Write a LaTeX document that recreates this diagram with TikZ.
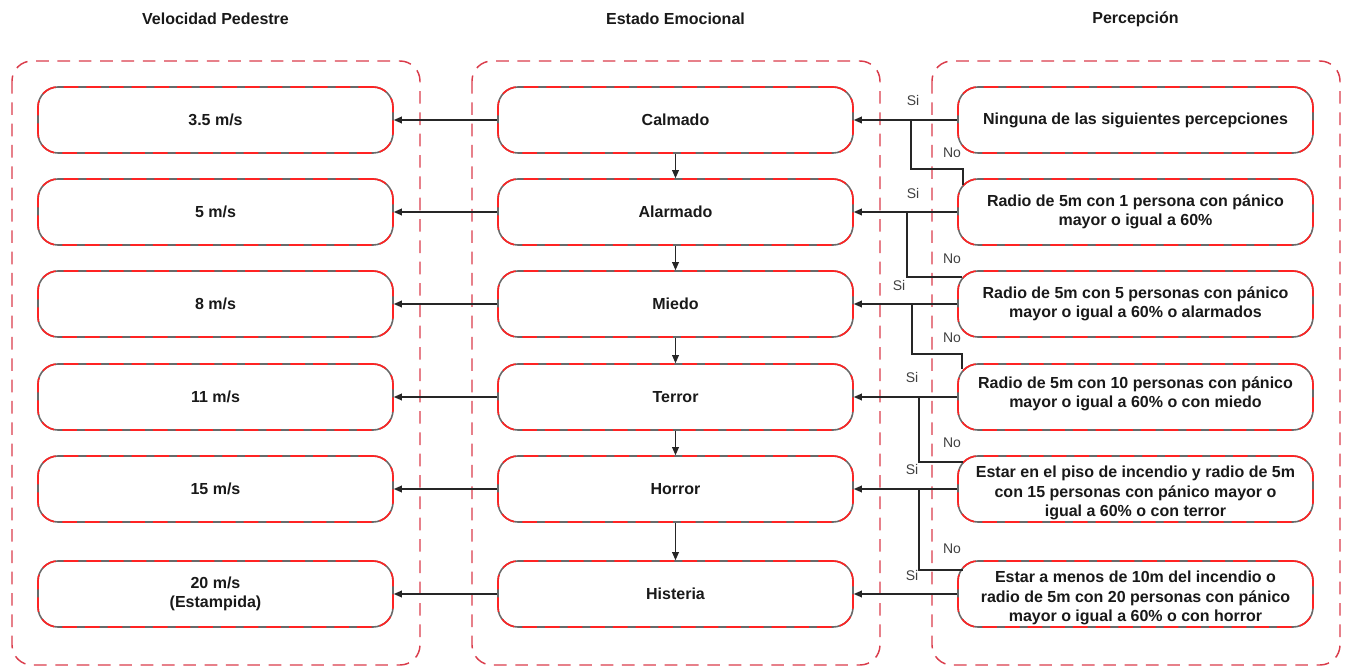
\documentclass[tikz,border=0pt]{standalone}
\usepackage{fontspec}
\setmainfont{Liberation Sans}
\usetikzlibrary{arrows.meta}
\definecolor{boxred}{RGB}{255,35,35}
\definecolor{boxgray}{RGB}{105,105,105}
\definecolor{lanered}{RGB}{218,60,75}
\definecolor{txt}{RGB}{25,25,25}
\begin{document}
\begin{tikzpicture}[x=0.75pt,y=-0.75pt,
 lane/.style={draw=lanered, line width=1.1pt, dash pattern=on 9.5pt off 6.5pt, rounded corners=15pt},
 stepbox/.style={rounded corners=15pt, minimum width=266.25pt, minimum height=49.5pt, inner sep=0pt, draw=boxred, line width=1.2pt, dash pattern=on 11pt off 6pt, preaction={draw=boxgray, solid, line width=1.2pt}, align=center, font=\fontsize{12}{14.6}\selectfont\bfseries, text=txt},
 ttl/.style={font=\fontsize{12}{14}\selectfont\bfseries, text=txt},
 lbl/.style={font=\fontsize{10.5}{12}\selectfont, text=black!75},
 conn/.style={draw=black!85, line width=1pt},
 arr/.style={conn, -{Triangle[length=6pt,width=5pt]}}
]
\useasboundingbox (0,0) rectangle (1346,666);

% titles
\node[ttl] (t1) at (215.5,19) {Velocidad Pedestre};
\node[ttl] (t2) at (675.5,19) {Estado Emocional};
\node[ttl] (t3) at (1135.5,19) {Percepción};

% lanes
\draw[lane] (12,61) rectangle (420,665);
\draw[lane] (472,61) rectangle (880,665);
\draw[lane] (932,61) rectangle (1340,665);

% left column
\node[stepbox] (l1) at (215.5,120) {3.5 m/s};
\node[stepbox] (l2) at (215.5,212) {5 m/s};
\node[stepbox] (l3) at (215.5,304) {8 m/s};
\node[stepbox] (l4) at (215.5,397) {11 m/s};
\node[stepbox] (l5) at (215.5,489) {15 m/s};
\node[stepbox] (l6) at (215.5,594) {20 m/s\\(Estampida)};

% middle column
\node[stepbox] (m1) at (675.5,120) {Calmado};
\node[stepbox] (m2) at (675.5,212) {Alarmado};
\node[stepbox] (m3) at (675.5,304) {Miedo};
\node[stepbox] (m4) at (675.5,397) {Terror};
\node[stepbox] (m5) at (675.5,489) {Horror};
\node[stepbox] (m6) at (675.5,594) {Histeria};

% right column
\node[stepbox] (r1) at (1135.5,120) {Ninguna de las siguientes percepciones};
\node[stepbox] (r2) at (1135.5,212) {Radio de 5m con 1 persona con pánico\\mayor o igual a 60\%};
\node[stepbox] (r3) at (1135.5,304) {Radio de 5m con 5 personas con pánico\\mayor o igual a 60\% o alarmados};
\node[stepbox] (r4) at (1135.5,397) {Radio de 5m con 10 personas con pánico\\mayor o igual a 60\% o con miedo\rule[-7pt]{0pt}{0pt}};
\node[stepbox] (r5) at (1135.5,489) {\rule{0pt}{15pt}Estar en el piso de incendio y radio de 5m\\con 15 personas con pánico mayor o\\igual a 60\% o con terror};
\node[stepbox] (r6) at (1135.5,594) {\rule{0pt}{15pt}Estar a menos de 10m del incendio o\\radio de 5m con 20 personas con pánico\\mayor o igual a 60\% o con horror};

% middle -> left
\foreach \i in {1,...,6} \draw[arr] (m\i.west) -- (l\i.east);
% middle vertical
\foreach \i/\j in {1/2,2/3,3/4,4/5,5/6} \draw[arr] (m\i.south) -- (m\j.north);
% right -> middle (Si)
\foreach \i in {1,...,6} \draw[arr] (r\i.west) -- (m\i.east);

% No branches
\coordinate (b1) at (911,120);  \coordinate (c1) at (963,169); \coordinate (e1) at (963,185);
\coordinate (b2) at (907,212); \coordinate (c2) at (962,277);
\coordinate (b3) at (912,304); \coordinate (c3) at (962,354); \coordinate (e3) at (962,369);
\coordinate (b4) at (919,397);  \coordinate (c4) at (963,462);
\coordinate (b5) at (919,489); \coordinate (c5) at (963,570);
\draw[conn] (b1) |- (c1) -- (e1);
\draw[conn] (b2) |- (c2);
\draw[conn] (b3) |- (c3) -- (e3);
\draw[conn] (b4) |- (c4);
\draw[conn] (b5) |- (c5);

% labels
\node[lbl] (s1) at (913,101) {Si};
\node[lbl] (s2) at (913,193) {Si};
\node[lbl] (s3) at (899,285) {Si};
\node[lbl] (s4) at (912,377) {Si};
\node[lbl] (s5) at (912,469) {Si};
\node[lbl] (s6) at (912,575) {Si};
\node[lbl] (n1) at (952,153) {No};
\node[lbl] (n2) at (952,259) {No};
\node[lbl] (n3) at (952,338) {No};
\node[lbl] (n4) at (952,443) {No};
\node[lbl] (n5) at (952,549) {No};
\end{tikzpicture}
\end{document}
